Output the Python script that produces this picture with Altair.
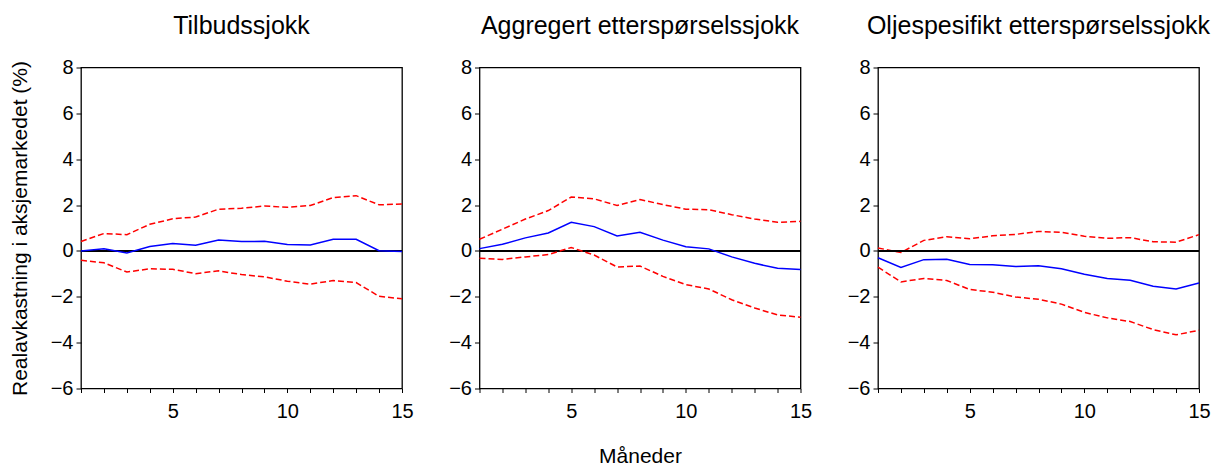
import altair as alt
import pandas as pd

months = list(range(1, 16))
titles = ["Tilbudssjokk", "Aggregert etterspørselssjokk", "Oljespesifikt etterspørselssjokk"]

irf_supply = [0.0, 0.09, -0.09, 0.19, 0.32, 0.25, 0.48, 0.41, 0.42, 0.28, 0.26, 0.51, 0.51, 0.01, -0.03]
up_supply = [0.41, 0.76, 0.71, 1.16, 1.40, 1.48, 1.82, 1.86, 1.96, 1.90, 1.98, 2.33, 2.41, 2.01, 2.05]
lo_supply = [-0.41, -0.52, -0.92, -0.78, -0.80, -0.99, -0.87, -1.03, -1.13, -1.32, -1.45, -1.29, -1.38, -1.98, -2.09]

irf_agg = [0.10, 0.29, 0.57, 0.78, 1.25, 1.06, 0.65, 0.81, 0.47, 0.18, 0.09, -0.26, -0.54, -0.76, -0.81]
up_agg = [0.51, 0.95, 1.39, 1.76, 2.35, 2.27, 1.98, 2.24, 2.02, 1.82, 1.80, 1.58, 1.39, 1.25, 1.29]
lo_agg = [-0.32, -0.37, -0.26, -0.16, 0.15, -0.18, -0.70, -0.66, -1.11, -1.47, -1.66, -2.13, -2.49, -2.79, -2.89]

irf_oil = [-0.30, -0.72, -0.38, -0.36, -0.59, -0.60, -0.68, -0.65, -0.78, -1.02, -1.20, -1.28, -1.54, -1.66, -1.40]
up_oil = [0.13, -0.07, 0.46, 0.62, 0.53, 0.66, 0.72, 0.85, 0.81, 0.64, 0.55, 0.58, 0.40, 0.38, 0.71]
lo_oil = [-0.71, -1.35, -1.20, -1.29, -1.68, -1.80, -2.01, -2.11, -2.32, -2.68, -2.92, -3.08, -3.43, -3.66, -3.46]

y_ticks = [-6, -4, -2, 0, 2, 4, 6, 8]
FONT = "Liberation Sans"


def panel(title, irf, up, lo, idx):
    df = pd.DataFrame({"m": months, "irf": irf, "up": up, "lo": lo})
    base = alt.Chart(df)
    x_axis_kw = dict(values=months, labelExpr="datum.value % 5 == 0 ? datum.label : ''",
                     tickSize=4, labelPadding=9, labelFlush=False, labelOverlap=False,
                     domain=False, grid=False)
    if idx == 1:
        x = alt.X("m:Q", scale=alt.Scale(domain=[1, 15], nice=False, zero=False),
                  axis=alt.Axis(titlePadding=24, **x_axis_kw), title="Måneder")
    else:
        x = alt.X("m:Q", scale=alt.Scale(domain=[1, 15], nice=False, zero=False),
                  axis=alt.Axis(**x_axis_kw), title=None)
    y_axis_kw = dict(values=y_ticks, tickSize=5, labelPadding=3, domain=False, grid=False)
    scale_y = alt.Scale(domain=[-6, 8], nice=False, zero=False)
    if idx == 0:
        yf = lambda f: alt.Y(f"{f}:Q", scale=scale_y, axis=alt.Axis(titlePadding=20, **y_axis_kw),
                             title="Realavkastning i aksjemarkedet (%)")
    else:
        yf = lambda f: alt.Y(f"{f}:Q", scale=scale_y, axis=alt.Axis(**y_axis_kw), title=None)

    zero = base.mark_rule(color="black", strokeWidth=1).encode(y=alt.datum(0))
    upper = base.mark_line(color="#ff0000", strokeWidth=1.5, strokeDash=[6, 3]).encode(x=x, y=yf("up"))
    lower = base.mark_line(color="#ff0000", strokeWidth=1.5, strokeDash=[6, 3]).encode(x=x, y=yf("lo"))
    line = base.mark_line(color="#0000ff", strokeWidth=1.5).encode(x=x, y=yf("irf"))
    return alt.layer(upper, zero, lower, line).properties(
        width=321, height=321,
        title=alt.TitleParams(title, fontSize=25, font=FONT, fontWeight="normal", color="black", offset=19),
    )


chart = alt.hconcat(
    panel(titles[0], irf_supply, up_supply, lo_supply, 0),
    panel(titles[1], irf_agg, up_agg, lo_agg, 1),
    panel(titles[2], irf_oil, up_oil, lo_oil, 2),
    spacing=77.5,
    bounds="flush",
).properties(
    padding={"left": 0, "top": 4.5, "right": 0, "bottom": 0},
    background="white",
).configure_view(
    stroke="black", strokeWidth=1.3
).configure_axis(
    labelFont=FONT, labelFontSize=20, labelColor="black",
    titleFont=FONT, titleFontSize=21, titleFontWeight="normal", titleColor="black",
    tickColor="black", grid=False,
)

chart.save("out.html", embed_options={"renderer": "svg", "actions": False})
